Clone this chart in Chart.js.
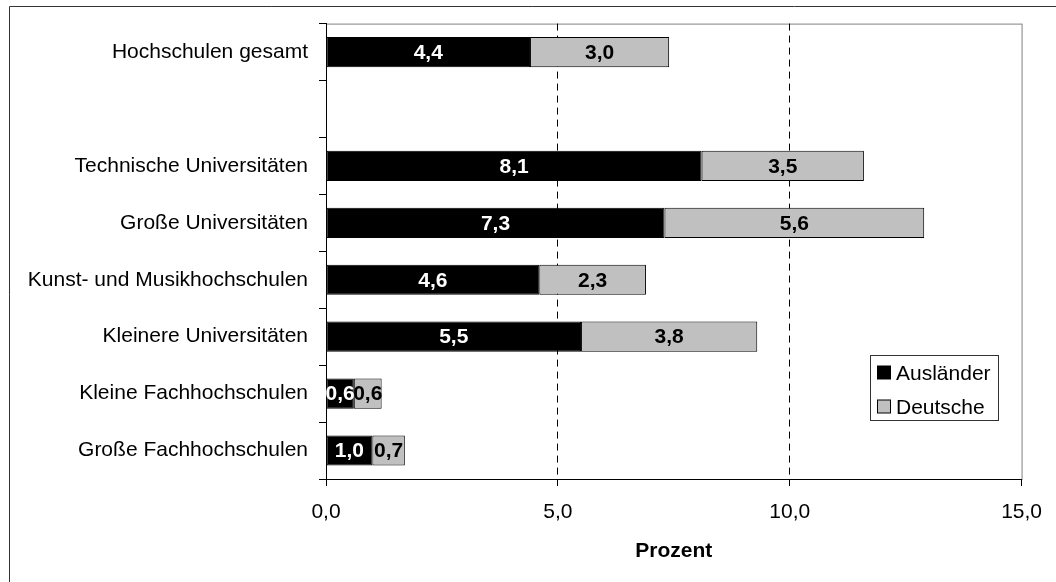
<!DOCTYPE html>
<html>
<head>
<meta charset="utf-8">
<script src="https://cdn.jsdelivr.net/npm/chart.js@4"></script>
<style>
    body { margin: 0; background: #fff; }
    #wrap { width: 1056px; height: 582px; position: relative; }
</style>
</head>
<body>
<div id="wrap"><canvas id="canvas"></canvas></div>
<script>
// Werte (Prozent)
var categories = [
    'Hochschulen gesamt', '', 'Technische Universitäten', 'Große Universitäten',
    'Kunst- und Musikhochschulen', 'Kleinere Universitäten',
    'Kleine Fachhochschulen', 'Große Fachhochschulen'
];
var auslaender = [4.4, null, 8.1, 7.3, 4.6, 5.5, 0.6, 1.0];
var deutsche = [3.0, null, 3.5, 5.6, 2.3, 3.8, 0.6, 0.7];
var xTicks = [0, 5, 10, 15];

var FONT = "'Liberation Sans', Arial, sans-serif";

function fmt(v) {
    return v.toFixed(1).replace('.', ',');
}

// Rahmen, Zahlen in den Balken und Legende
var decor = {
    id: 'decor',
    beforeDraw: function(chart) {
        var ctx = chart.ctx, a = chart.chartArea;
        ctx.save();
        ctx.strokeStyle = '#333';
        ctx.lineWidth = 1;
        ctx.beginPath();
        ctx.moveTo(9.5, 582);
        ctx.lineTo(9.5, 6.5);
        ctx.lineTo(1056, 6.5);
        ctx.stroke();
        ctx.strokeStyle = '#808080';
        ctx.strokeRect(a.left + 0.5, a.top + 0.5, a.right - a.left, a.bottom - a.top);
        ctx.restore();
    },
    afterDatasetsDraw: function(chart) {
        var ctx = chart.ctx;
        ctx.save();
        ctx.font = 'bold 21px ' + FONT;
        ctx.textAlign = 'center';
        ctx.textBaseline = 'middle';
        chart.data.datasets.forEach(function(ds, di) {
            var meta = chart.getDatasetMeta(di);
            meta.data.forEach(function(el, i) {
                var v = ds.data[i];
                if (v === null) return;
                ctx.fillStyle = di === 0 ? '#fff' : '#000';
                ctx.fillText(fmt(v), (el.x + el.base) / 2, el.y + 1);
            });
        });
        ctx.restore();
    },
    afterDraw: function(chart) {
        var ctx = chart.ctx;
        var bx = 870.5, by = 355.5, bw = 128, bh = 65;
        ctx.save();
        ctx.fillStyle = '#fff';
        ctx.fillRect(bx, by, bw, bh);
        ctx.strokeStyle = '#333';
        ctx.lineWidth = 1;
        ctx.strokeRect(bx, by, bw, bh);
        ctx.font = '21px ' + FONT;
        ctx.textBaseline = 'middle';
        chart.data.datasets.forEach(function(ds, di) {
            var cy = 373 + di * 34;
            ctx.fillStyle = ds.backgroundColor;
            ctx.fillRect(877.5, cy - 7, 13, 13);
            ctx.strokeStyle = '#000';
            ctx.strokeRect(877.5, cy - 7, 13, 13);
            ctx.fillStyle = '#000';
            ctx.fillText(ds.label, 896, cy + 1);
        });
        ctx.restore();
    }
};

var config = {
    type: 'bar',
    data: {
        labels: categories,
        datasets: [{
            label: 'Ausländer',
            data: auslaender,
            backgroundColor: '#000000',
            borderColor: '#000000',
            borderWidth: 1,
            borderSkipped: false
        }, {
            label: 'Deutsche',
            data: deutsche,
            backgroundColor: '#c0c0c0',
            borderColor: '#000000',
            borderWidth: 1,
            borderSkipped: false
        }]
    },
    options: {
        indexAxis: 'y',
        responsive: true,
        maintainAspectRatio: false,
        animation: false,
        categoryPercentage: 1,
        barPercentage: 0.53,
        layout: { padding: { top: 21, right: 30, left: 0, bottom: 0 } },
        plugins: {
            legend: { display: false },
            tooltip: { enabled: false }
        },
        scales: {
            x: {
                stacked: true,
                min: 0,
                max: 15,
                afterFit: function(scale) { scale.height = 103; },
                afterBuildTicks: function(scale) {
                    scale.ticks = xTicks.map(function(v) { return { value: v }; });
                },
                ticks: {
                    color: '#000',
                    font: { family: FONT, size: 21 },
                    padding: 14,
                    maxRotation: 0,
                    callback: function(v) { return fmt(v); }
                },
                grid: {
                    color: function(c) {
                        var v = c.tick ? c.tick.value : 0;
                        return (v === 5 || v === 10) ? '#000' : 'rgba(0,0,0,0)';
                    },
                    tickColor: '#000',
                    tickLength: 7,
                    tickBorderDash: []
                },
                border: { color: '#000', width: 1, dash: [7, 5] },
                title: {
                    display: true,
                    text: 'Prozent',
                    color: '#000',
                    font: { family: FONT, size: 21, weight: 'bold' },
                    padding: { top: 0, bottom: 18 }
                }
            },
            y: {
                stacked: true,
                afterFit: function(scale) { scale.width = 326; },
                ticks: {
                    color: '#000',
                    font: { family: FONT, size: 21 },
                    padding: 11,
                    autoSkip: false
                },
                grid: {
                    offset: true,
                    drawOnChartArea: false,
                    color: '#000',
                    tickLength: 7
                },
                border: { color: '#000', width: 1 }
            }
        }
    },
    plugins: [decor]
};

window.onload = function() {
    window.myBar = new Chart(document.getElementById('canvas'), config);
};
</script>
</body>
</html>
